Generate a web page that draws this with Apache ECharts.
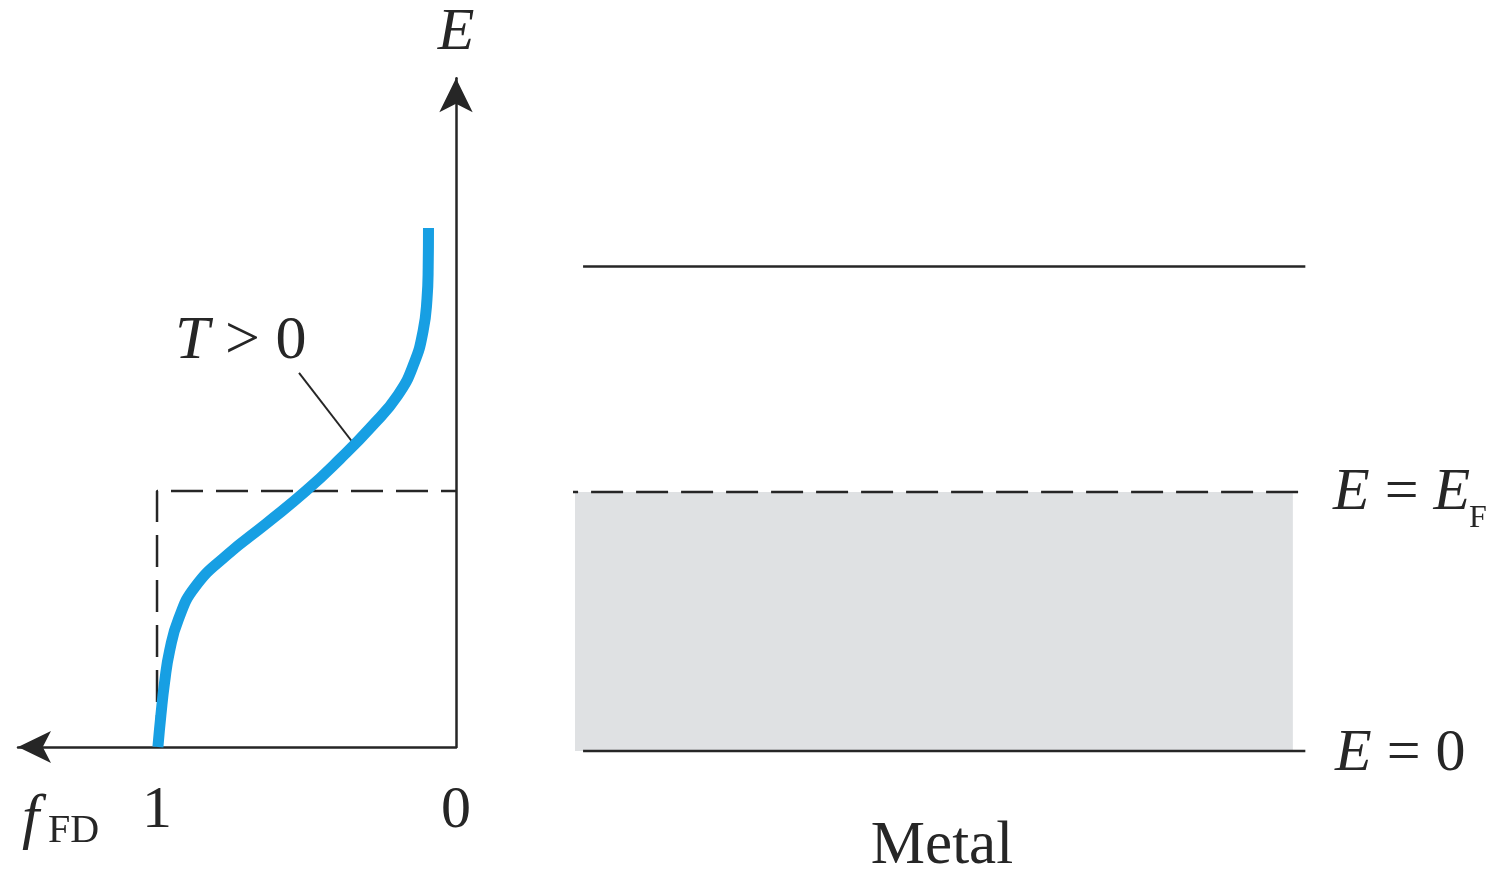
<!DOCTYPE html>
<html><head><meta charset="utf-8">
<script src="https://cdn.jsdelivr.net/npm/echarts@6/dist/echarts.min.js"></script>
<style>html,body{margin:0;padding:0;background:#fff}#c{width:1504px;height:874px}</style>
</head><body><div id="c"></div>
<script>
// Fermi-Dirac occupancy curve (E in units of E_F)
const energyE    = [0, 0.125, 0.25, 0.375, 0.5, 0.625, 0.75, 0.875, 1.0, 1.125, 1.25, 1.375, 1.5, 1.625, 1.75, 1.875, 2.027];
const occupancyF = [0.997, 0.987, 0.975, 0.958, 0.928, 0.873, 0.766, 0.632, 0.502, 0.388, 0.284, 0.194, 0.140, 0.110, 0.097, 0.093, 0.092];
const fTicks = [0, 1];
const fermiLevel = 1;      // E = E_F
const bottomLevel = 0;     // E = 0
const upperLevel = 1.87;   // upper line of the metal diagram
const leaderF = [0.525, 0.344];
const leaderE = [1.461, 1.1875];

const SERIF = '"Liberation Serif", "Times New Roman", serif';
const INK = '#262626';
const BLUE = '#179fe3';
const GRAY = '#dfe1e3';

const chart = echarts.init(document.getElementById('c'), null, {renderer: 'canvas'});
const curve = energyE.map((e, i) => [occupancyF[i], e]);
const dash = [32, 13];

chart.setOption({
  animation: false,
  backgroundColor: '#fff',
  grid: [
    {left: 18, top: 78.3, width: 438, height: 668.7, outerBoundsMode: 'none'},
    {left: 575, top: 74.3, width: 734, height: 676.7, outerBoundsMode: 'none'}
  ],
  xAxis: [
    {gridIndex: 0, type: 'value', min: 0, max: 1.465, inverse: true,
     axisLine: {show: true, onZero: false, symbol: ['arrow', 'none'], symbolSize: [24, 33],
       lineStyle: {color: INK, width: 2.5}},
     axisTick: {show: false}, splitLine: {show: false},
     axisLabel: {customValues: fTicks, fontSize: 60, fontFamily: SERIF, color: INK, margin: 34}},
    {gridIndex: 1, type: 'value', min: 0, max: 100,
     axisLine: {show: false}, axisTick: {show: false}, axisLabel: {show: false}, splitLine: {show: false},
     name: 'Metal', nameLocation: 'middle', nameGap: 65,
     nameTextStyle: {fontSize: 61, fontFamily: SERIF, color: INK}}
  ],
  yAxis: [
    {gridIndex: 0, type: 'value', min: 0, max: 2.612, position: 'right',
     axisLine: {show: true, onZero: false, symbol: ['none', 'arrow'], symbolSize: [25, 34],
       lineStyle: {color: INK, width: 2.5}},
     axisTick: {show: false}, axisLabel: {show: false}, splitLine: {show: false},
     name: 'E', nameLocation: 'end', nameGap: 15,
     nameTextStyle: {fontSize: 60, fontFamily: SERIF, fontStyle: 'italic', color: INK}},
    {gridIndex: 1, type: 'value', min: 0, max: 2.612, show: false}
  ],
  series: [
    {type: 'line', xAxisIndex: 0, yAxisIndex: 0, data: [[1, bottomLevel], [1, fermiLevel], [0, fermiLevel]],
     showSymbol: false, lineStyle: {color: INK, width: 2.5, type: dash}, z: 2},
    {type: 'line', xAxisIndex: 1, yAxisIndex: 1, data: [[-16.2, fermiLevel], [100.8, fermiLevel]], clip: false,
     showSymbol: false, lineStyle: {color: INK, width: 2.5, type: dash}, z: 2,
     markArea: {silent: true, itemStyle: {color: GRAY},
       data: [[{coord: [0, bottomLevel]}, {coord: [97.8, fermiLevel]}]]}},
    {type: 'line', xAxisIndex: 1, yAxisIndex: 1, data: [[1.1, upperLevel], [99.5, upperLevel]], clip: false,
     showSymbol: false, lineStyle: {color: INK, width: 2.5}},
    {type: 'line', xAxisIndex: 1, yAxisIndex: 1, data: [[1.1, bottomLevel], [99.5, bottomLevel]], clip: false,
     showSymbol: false, lineStyle: {color: INK, width: 2.5}},
    {type: 'line', xAxisIndex: 0, yAxisIndex: 0, data: [[leaderF[0], leaderE[0]], [leaderF[1], leaderE[1]]],
     showSymbol: false, lineStyle: {color: INK, width: 2}},
    {type: 'line', xAxisIndex: 0, yAxisIndex: 0, data: curve, smooth: 0.5, showSymbol: false, clip: false,
     lineStyle: {color: BLUE, width: 11, cap: 'butt'}, z: 5}
  ],
  graphic: [
    {type: 'text', left: 175, top: 311, style: {text: '{i|T} > 0', font: '62px ' + SERIF, fill: INK,
      rich: {i: {fontStyle: 'italic', fontSize: 62, fontFamily: SERIF, fill: INK}}}},
    {type: 'text', left: 1333, top: 463, style: {text: '{i|E} = {i|E}', font: '60px ' + SERIF, fill: INK,
      rich: {i: {fontStyle: 'italic', fontSize: 60, fontFamily: SERIF, fill: INK}}}},
    {type: 'text', left: 1469, top: 503, style: {text: 'F', font: '32px ' + SERIF, fill: INK}},
    {type: 'text', left: 1335, top: 724, style: {text: '{i|E} = 0', font: '60px ' + SERIF, fill: INK,
      rich: {i: {fontStyle: 'italic', fontSize: 60, fontFamily: SERIF, fill: INK}}}},
    {type: 'text', left: 22, top: 790, style: {text: 'f', font: 'italic 62px ' + SERIF, fill: INK}},
    {type: 'text', left: 48, top: 811, style: {text: 'FD', font: '40px ' + SERIF, fill: INK}}
  ]
});
</script></body></html>
